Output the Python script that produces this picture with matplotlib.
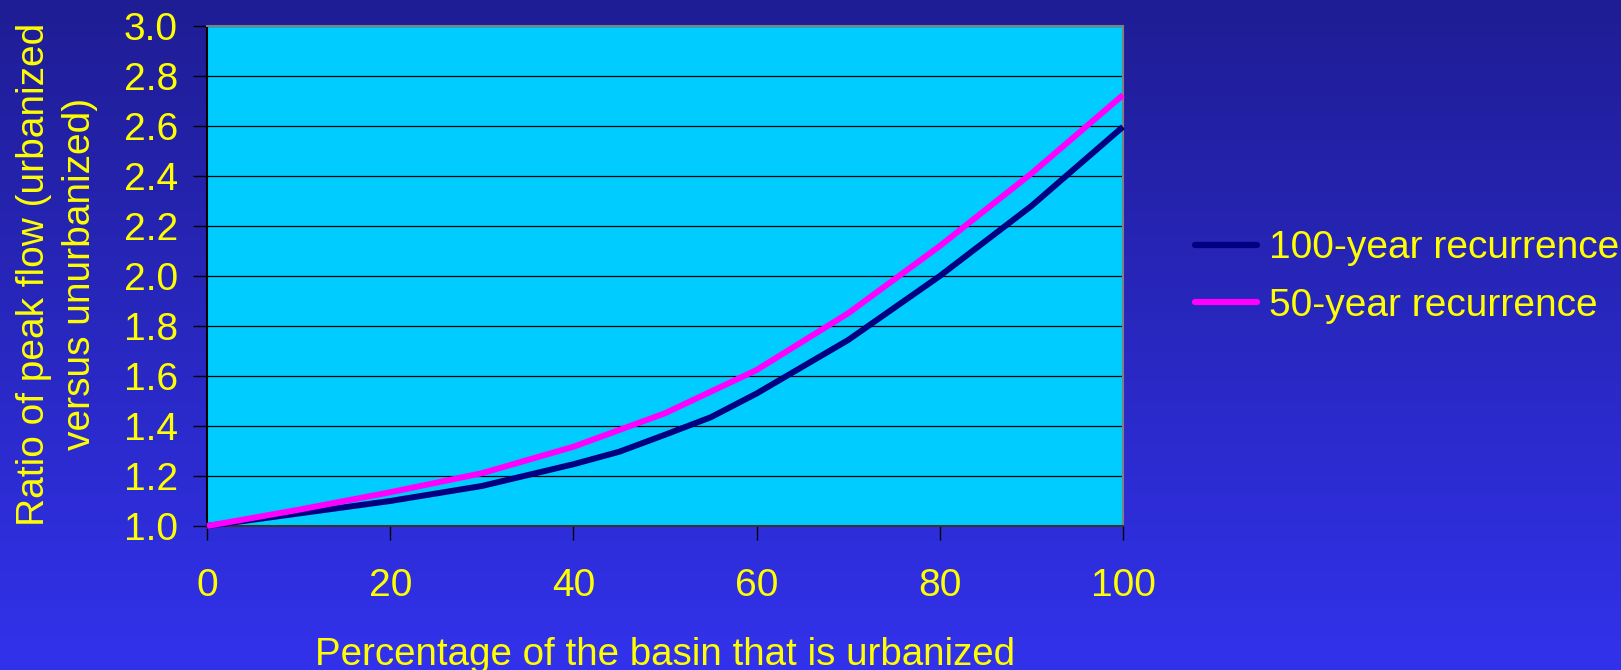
import numpy as np
import matplotlib
matplotlib.use("Agg")
import matplotlib.pyplot as plt
from matplotlib.colors import LinearSegmentedColormap

plt.rcParams['font.family'] = ['Liberation Sans', 'DejaVu Sans']

# data
urban_pct = [0, 10, 20, 30, 40, 45, 50, 55, 60, 70, 80, 90, 100]
ratio_100yr = [1.0, 1.05, 1.10, 1.16, 1.247, 1.297, 1.365, 1.435, 1.53, 1.744, 2.0, 2.28, 2.597]
pct_50 = [0, 10, 20, 30, 40, 50, 60, 70, 80, 90, 100]
ratio_50yr = [1.0, 1.065, 1.135, 1.211, 1.317, 1.451, 1.624, 1.851, 2.12, 2.41, 2.724]
x_ticks = [0, 20, 40, 60, 80, 100]
y_ticks = [1.0, 1.2, 1.4, 1.6, 1.8, 2.0, 2.2, 2.4, 2.6, 2.8, 3.0]

yellow = '#ffff00'
fs = 28

fig = plt.figure(figsize=(16.21, 6.70), dpi=100)

# gradient background
bg = fig.add_axes([0, 0, 1, 1], zorder=-1)
cmap = LinearSegmentedColormap.from_list('bg', ['#1f1d94', '#3232ec'])
grad = np.linspace(0, 1, 256).reshape(-1, 1)
bg.imshow(grad, aspect='auto', cmap=cmap, extent=[0, 1, 0, 1], origin='upper')
bg.axis('off')

ax = fig.add_axes([207/1621, 144/670, 916/1621, 500/670])
ax.set_facecolor('#00ccff')
ax.plot(urban_pct, ratio_100yr, color='#000080', lw=4.3, label='100-year recurrence',
        solid_capstyle='butt', clip_on=False, zorder=3)
ax.plot(pct_50, ratio_50yr, color='#ff00ff', lw=4.3, label='50-year recurrence',
        solid_capstyle='butt', clip_on=False, zorder=4)

ax.set_xlim(0, 100)
ax.set_ylim(1.0, 3.0)
ax.set_xticks(x_ticks)
ax.set_yticks(y_ticks)
ax.set_yticklabels(['%.1f' % v for v in y_ticks])
ax.yaxis.grid(True, color='black', lw=0.9)
ax.set_axisbelow(True)

ax.tick_params(axis='both', colors='black', labelcolor=yellow, labelsize=fs,
               direction='out', length=10, width=1)
ax.tick_params(axis='x', pad=20)
ax.tick_params(axis='y', pad=11)

ax.spines['left'].set_color('black')
ax.spines['bottom'].set_color('#333333')
ax.spines['top'].set_color('#808080')
ax.spines['right'].set_color('#808080')
for s in ax.spines.values():
    s.set_linewidth(1.5)

fig.text(665/1621, (670-665)/670, 'Percentage of the basin that is urbanized',
         color=yellow, fontsize=27.7, ha='center', va='baseline')
fig.text(57/1621, (670-274)/670, 'Ratio of peak flow (urbanized\nversus unurbanized)',
         color=yellow, fontsize=fs, ha='center', va='center', rotation=90,
         multialignment='center', linespacing=1.36)

leg = ax.legend(loc='center left', bbox_to_anchor=(1195/1621, (670-277)/670),
                bbox_transform=fig.transFigure, frameon=False, fontsize=fs,
                handlelength=1.6, handletextpad=0.3, labelspacing=0.55,
                borderpad=0, borderaxespad=0)
for t in leg.get_texts():
    t.set_color(yellow)
for h in leg.get_lines():
    h.set_linewidth(4.5)
    h.set_solid_capstyle('round')

fig.savefig('out.png', dpi=100)
